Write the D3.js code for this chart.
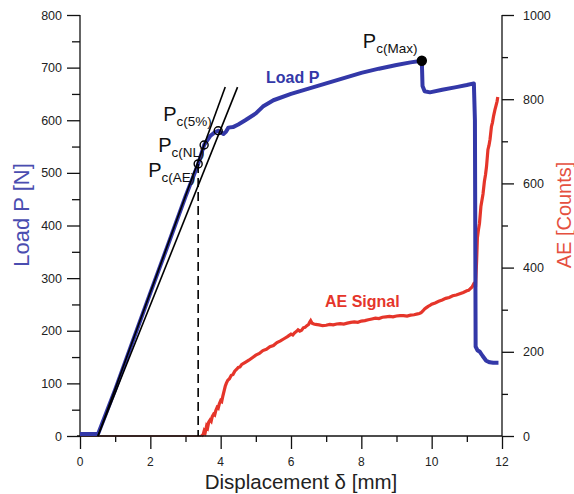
<!DOCTYPE html>
<html>
<head>
<meta charset="utf-8">
<script src="https://cdn.jsdelivr.net/npm/d3@7"></script>
<style>
  html, body { margin: 0; padding: 0; background: #fff; }
  svg { display: block; font-family: "Liberation Sans", Arial, Helvetica, sans-serif; }
</style>
</head>
<body>
<svg id="chart" width="574" height="494"></svg>
<script>
// ---------------- data ----------------
const xTicks = [0, 2, 4, 6, 8, 10, 12];
const loadTicks = [0, 100, 200, 300, 400, 500, 600, 700, 800];
const aeTicks = [0, 200, 400, 600, 800, 1000];

// Load P [N] vs displacement [mm]
const loadX = [0, 0.5, 0.52, 1.0, 1.5, 2.0, 2.5, 3.0, 3.36, 3.53, 3.7, 3.85, 3.93, 4.0, 4.08, 4.15, 4.22, 4.35, 4.5, 4.7, 5.0, 5.2, 5.5, 6.0, 6.5, 7.0, 7.5, 8.0, 8.5, 9.0, 9.4, 9.72, 9.74, 9.8, 9.95, 10.3, 10.7, 11.0, 11.2, 11.23, 11.25, 11.3, 11.37, 11.45, 11.55, 11.65, 11.75, 11.9];
const loadY = [4, 4, 5, 88, 180, 272, 363, 455, 517, 553, 570, 578, 580, 577, 574, 578, 586, 587, 592, 600, 613, 626, 638, 650, 660, 670, 680, 690, 698, 705, 710, 713, 665, 655, 653, 658, 663, 667, 670, 600, 170, 163, 160, 152, 143, 140, 139, 139];

// AE counts vs displacement [mm] (cumulative)
const aeX = [0, 3.45, 3.5, 3.53, 3.56, 3.6, 3.63, 3.66, 3.7, 3.73, 3.76, 3.8, 3.83, 3.86, 3.9, 3.93, 3.96, 4.0, 4.03, 4.06, 4.1, 4.13, 4.16, 4.2, 4.25, 4.3, 4.35, 4.4, 4.45, 4.5, 4.55, 4.6, 4.7, 4.8, 4.9, 5.0, 5.1, 5.2, 5.3, 5.4, 5.5, 5.6, 5.7, 5.8, 5.9, 6.0, 6.05, 6.1, 6.15, 6.2, 6.25, 6.3, 6.35, 6.4, 6.45, 6.5, 6.53, 6.56, 6.6, 6.65, 6.7, 6.8, 6.9, 7.0, 7.1, 7.2, 7.3, 7.4, 7.5, 7.6, 7.7, 7.8, 7.9, 8.0, 8.1, 8.2, 8.3, 8.4, 8.5, 8.6, 8.7, 8.8, 8.9, 9.0, 9.1, 9.2, 9.3, 9.4, 9.5, 9.6, 9.65, 9.7, 9.75, 9.8, 9.85, 9.9, 9.95, 10.0, 10.1, 10.2, 10.3, 10.4, 10.5, 10.6, 10.7, 10.8, 10.9, 11.0, 11.05, 11.1, 11.15, 11.2, 11.25, 11.28, 11.3, 11.33, 11.36, 11.4, 11.43, 11.46, 11.5, 11.53, 11.56, 11.6, 11.63, 11.66, 11.7, 11.73, 11.76, 11.8, 11.83, 11.86, 11.88];
const aeY = [0, 0, 3, 12, 8, 24, 20, 33, 38, 35, 46, 52, 50, 60, 68, 66, 76, 84, 82, 94, 108, 118, 125, 132, 136, 144, 146, 154, 158, 163, 164, 170, 175, 180, 186, 192, 196, 203, 206, 212, 215, 222, 226, 231, 236, 242, 240, 245, 248, 252, 249, 251, 257, 258, 262, 265, 270, 274, 268, 266, 265, 264, 262, 263, 265, 264, 266, 267, 266, 268, 270, 271, 270, 273, 274, 276, 278, 280, 279, 282, 283, 284, 283, 285, 286, 286, 285, 287, 288, 290, 291, 293, 297, 302, 305, 308, 310, 313, 316, 320, 323, 327, 329, 333, 335, 338, 341, 345, 346, 350, 354, 362, 360, 420, 470, 490, 505, 545, 560, 575, 605, 620, 640, 680, 690, 705, 735, 745, 760, 775, 785, 795, 805];

// tangent (compliance) lines: initial and 5% offset
const line1X = [0.51, 4.13], line1Y = [0, 663];
const line2X = [0.51, 4.48], line2Y = [0, 663];

// characteristic points
const ptNames = ["Max", "5%", "NL", "AE"];
const ptX = [9.72, 3.93, 3.53, 3.36];
const ptY = [713, 580, 553, 517];

// ---------------- layout ----------------
const svg = d3.select("#chart");
const x = d3.scaleLinear().domain([0, 12]).range([80, 502]);
const yL = d3.scaleLinear().domain([0, 800]).range([436, 15]);
const yR = d3.scaleLinear().domain([0, 1000]).range([436, 15]);

const BLUE = "#3338a8", RED = "#e5352a";

// axes
const axL = svg.append("g").attr("transform", "translate(80,0)")
  .call(d3.axisLeft(yL).tickValues(d3.range(0, 801, 50)).tickSize(13).tickFormat(""));
axL.selectAll(".tick line").attr("x2", (d) => d % 100 === 0 ? -13 : -8);
const axR = svg.append("g").attr("transform", "translate(502,0)")
  .call(d3.axisRight(yR).tickValues(d3.range(0, 1001, 100)).tickSize(12).tickFormat(""));
axR.selectAll(".tick line").attr("x2", (d) => d % 200 === 0 ? 12 : 6);
const axB = svg.append("g").attr("transform", "translate(0,436)")
  .call(d3.axisBottom(x).tickValues(d3.range(0, 13, 1)).tickSize(13).tickFormat(""));
axB.selectAll(".tick line").attr("y2", (d) => d % 2 === 0 ? 13 : 6);
[axL, axR, axB].forEach(a => {
  a.select(".domain").remove();
  a.selectAll(".tick line").attr("stroke", "#111").attr("stroke-width", 1.3);
});
svg.append("line").attr("x1", 80).attr("x2", 80).attr("y1", 15).attr("y2", 436).attr("stroke", "#111").attr("stroke-width", 1.3);
svg.append("line").attr("x1", 502).attr("x2", 502).attr("y1", 15).attr("y2", 436).attr("stroke", "#111").attr("stroke-width", 1.3);

// tick labels
svg.append("g").selectAll("text").data(loadTicks).join("text")
  .attr("x", 62).attr("y", d => yL(d) + 4.5).attr("text-anchor", "end")
  .attr("font-size", 12.5).attr("fill", "#222").text(d => d);
svg.append("g").selectAll("text").data(aeTicks).join("text")
  .attr("x", 523).attr("y", d => yR(d) + 4.5).attr("text-anchor", "start")
  .attr("font-size", 12.5).attr("fill", "#222").text(d => d);
svg.append("g").selectAll("text").data(xTicks).join("text")
  .attr("x", d => x(d)).attr("y", 466).attr("text-anchor", "middle")
  .attr("font-size", 12).attr("fill", "#222").text(d => d);

// axis titles
svg.append("text").attr("x", 301).attr("y", 489).attr("text-anchor", "middle")
  .attr("font-size", 20.5).attr("fill", "#222").text("Displacement δ [mm]");
svg.append("text").attr("transform", "translate(29,215) rotate(-90)").attr("text-anchor", "middle")
  .attr("font-size", 22).attr("fill", "#4a4db0").text("Load P [N]");
svg.append("text").attr("transform", "translate(571,215) rotate(-90)").attr("text-anchor", "middle")
  .attr("font-size", 20).attr("fill", "#e5503f").text("AE [Counts]");

// AE signal (zero part drawn thin along the axis)
const aeData = aeX.map((d, i) => [d, aeY[i]]);
const aeLine = d3.line().x(d => x(d[0])).y(d => yR(d[1]));
svg.append("path").datum(aeData.filter(d => d[1] === 0))
  .attr("d", aeLine).attr("fill", "none").attr("stroke", "#8a2a22").attr("stroke-width", 1.5);
svg.append("path").datum(aeData.filter((d, i) => i >= 1))
  .attr("d", aeLine)
  .attr("fill", "none").attr("stroke", RED).attr("stroke-width", 3.2).attr("stroke-linejoin", "miter");

// x-axis line
svg.append("line").attr("x1", 77).attr("x2", 502).attr("y1", 436).attr("y2", 436).attr("stroke", "#111").attr("stroke-width", 1.3);

// Load curve
const loadData = loadX.map((d, i) => [d, loadY[i]]);
svg.append("path").datum(loadData)
  .attr("d", d3.line().x(d => x(d[0])).y(d => yL(d[1])))
  .attr("fill", "none").attr("stroke", BLUE).attr("stroke-width", 4).attr("stroke-linejoin", "round");

// tangent lines
[[line1X, line1Y], [line2X, line2Y]].forEach(([lx, ly]) => {
  svg.append("line")
    .attr("x1", x(lx[0])).attr("y1", yL(ly[0])).attr("x2", x(lx[1])).attr("y2", yL(ly[1]))
    .attr("stroke", "#000").attr("stroke-width", 1.6);
});

// dashed line at Pc(AE)
svg.append("line")
  .attr("x1", x(ptX[3])).attr("x2", x(ptX[3])).attr("y1", yL(ptY[3])).attr("y2", yL(0))
  .attr("stroke", "#000").attr("stroke-width", 1.6).attr("stroke-dasharray", "9,5");

// markers
ptNames.forEach((n, i) => {
  svg.append("circle").attr("cx", x(ptX[i])).attr("cy", yL(ptY[i])).attr("r", n === "Max" ? 4.5 : 4)
    .attr("fill", n === "Max" ? "#000" : "none").attr("stroke", "#000").attr("stroke-width", 1.4);
});

// point labels
const labelOff = { "Max": [-59, -13], "5%": [-55, -10], "NL": [-46, 7], "AE": [-50, 13] };
ptNames.forEach((n, i) => {
  const t = svg.append("text")
    .attr("x", x(ptX[i]) + labelOff[n][0]).attr("y", yL(ptY[i]) + labelOff[n][1])
    .attr("font-size", 20).attr("fill", "#111");
  t.append("tspan").text("P");
  t.append("tspan").attr("font-size", 13.5).attr("dy", 5).text("c(" + n + ")");
});

// series labels
svg.append("text").attr("x", 266).attr("y", 83).attr("font-size", 16).attr("font-weight", "bold")
  .attr("fill", BLUE).text("Load P");
svg.append("text").attr("x", 325).attr("y", 307).attr("font-size", 16).attr("font-weight", "bold")
  .attr("fill", RED).text("AE Signal");
</script>
</body>
</html>
